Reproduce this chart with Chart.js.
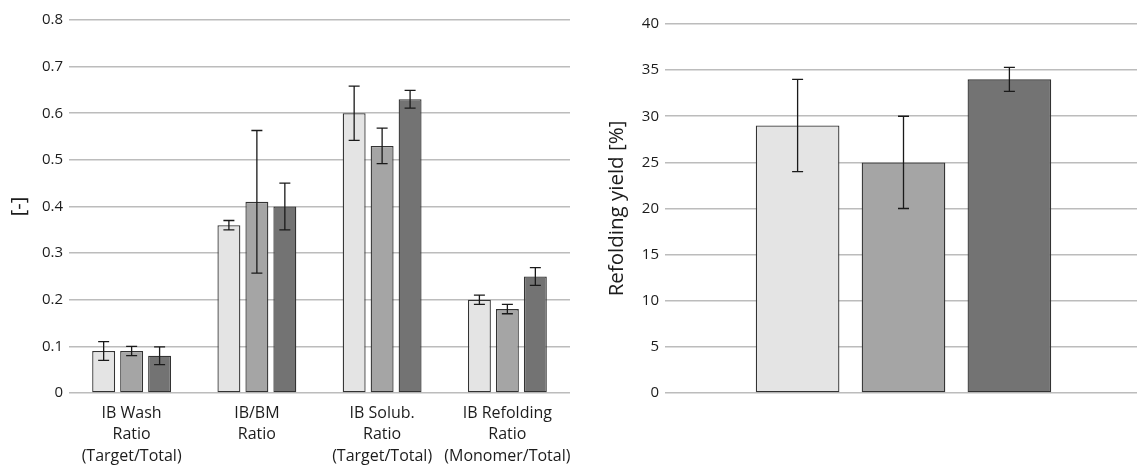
<!DOCTYPE html>
<html>
<head>
<meta charset="utf-8">
<script src="https://cdn.jsdelivr.net/npm/chart.js@4/dist/chart.umd.min.js"></script>
<style>
  html, body { margin: 0; padding: 0; background: #fff; overflow: hidden; width: 1137px; height: 467px; }
  #wrapL { position: absolute; left: 0; top: 0; width: 580px; height: 467px; }
  #wrapR { position: absolute; left: 580px; top: 0; width: 562px; height: 467px; }
</style>
</head>
<body>
<div id="wrapL"><canvas id="left" width="580" height="467"></canvas></div>
<div id="wrapR"><canvas id="right" width="562" height="467"></canvas></div>
<script>
// ---- data ----
const ratioCategories = [
  ['IB Wash', 'Ratio', '(Target/Total)'],
  ['IB/BM', 'Ratio'],
  ['IB Solub.', 'Ratio', '(Target/Total)'],
  ['IB Refolding', 'Ratio', '(Monomer/Total)']
];
const seriesNames = ['Condition 1', 'Condition 2', 'Condition 3'];
const ratioSeries1 = [0.09, 0.36, 0.60, 0.20];
const ratioSeries2 = [0.09, 0.41, 0.53, 0.18];
const ratioSeries3 = [0.08, 0.40, 0.63, 0.25];
const ratioError1 = [0.02, 0.01, 0.058, 0.01];
const ratioError2 = [0.01, 0.153, 0.038, 0.01];
const ratioError3 = [0.019, 0.05, 0.019, 0.019];

const yieldCategories = [''];
const yieldSeries1 = [29];
const yieldSeries2 = [25];
const yieldSeries3 = [34];
const yieldError1 = [5];
const yieldError2 = [5];
const yieldError3 = [1.3];

const ratioTicks = { min: 0, max: 0.8, step: 0.1 };
const yieldTicks = { min: 0, max: 40, step: 5 };

// ---- styles ----
const fills = ['#e4e4e4', '#a5a5a5', '#737373'];
const FONT = "'Open Sans', 'Noto Sans', sans-serif";
const textColor = '#1c1c1c';
const gridColor = '#bcbcbc';

const errorBarPlugin = {
  id: 'errorBars',
  afterDatasetsDraw(chart) {
    const ctx = chart.ctx;
    const y = chart.scales.y;
    ctx.save();
    ctx.strokeStyle = '#1a1a1a';
    ctx.lineWidth = 1.3;
    chart.data.datasets.forEach((ds, i) => {
      const meta = chart.getDatasetMeta(i);
      meta.data.forEach((bar, j) => {
        const v = ds.data[j], e = ds.errors[j];
        const yt = y.getPixelForValue(v + e);
        const yb = y.getPixelForValue(v - e);
        const x = bar.x, hw = 5.5;
        ctx.beginPath();
        ctx.moveTo(x, yt); ctx.lineTo(x, yb);
        ctx.moveTo(x - hw, yt); ctx.lineTo(x + hw, yt);
        ctx.moveTo(x - hw, yb); ctx.lineTo(x + hw, yb);
        ctx.stroke();
      });
    });
    ctx.restore();
  }
};

function makeDatasets(values, errors, barPct, catPct) {
  return values.map((vals, i) => ({
    label: seriesNames[i],
    data: vals,
    errors: errors[i],
    backgroundColor: fills[i],
    borderColor: '#333333',
    borderWidth: 1.3,
    borderSkipped: false,
    barPercentage: barPct,
    categoryPercentage: catPct
  }));
}

function yScale(range, title, titleSize, titleOffset, axisWidth) {
  return {
    min: range.min, max: range.max,
    ticks: { stepSize: range.step, color: textColor, padding: 6, font: { family: FONT, size: 15 } },
    grid: { color: gridColor, lineWidth: 1.6, drawTicks: false },
    border: { display: false },
    title: {
      display: true, text: title, color: textColor,
      font: { family: FONT, size: titleSize, lineHeight: 1.2 },
      padding: { top: titleOffset - titleSize * 0.6, bottom: 0 }
    },
    afterFit: (s) => { s.width = axisWidth; }
  };
}

new Chart(document.getElementById('left'), {
  type: 'bar',
  data: {
    labels: ratioCategories,
    datasets: makeDatasets([ratioSeries1, ratioSeries2, ratioSeries3], [ratioError1, ratioError2, ratioError3], 0.82, 0.67)
  },
  options: {
    responsive: false, animation: false,
    layout: { padding: { top: 20, right: 10, bottom: 0, left: 0 } },
    plugins: { legend: { display: false }, tooltip: { enabled: false } },
    scales: {
      x: {
        grid: { display: false },
        border: { display: false },
        ticks: { color: textColor, padding: 1.5, maxRotation: 0, autoSkip: false, font: { family: FONT, size: 16, lineHeight: 1.35 } },
        afterFit: (s) => { s.height = 74; }
      },
      y: yScale(ratioTicks, '[-]', 20, 19, 69)
    }
  },
  plugins: [errorBarPlugin]
});

new Chart(document.getElementById('right'), {
  type: 'bar',
  data: {
    labels: yieldCategories,
    datasets: makeDatasets([yieldSeries1, yieldSeries2, yieldSeries3], [yieldError1, yieldError2, yieldError3], 0.79, 0.666)
  },
  options: {
    responsive: false, animation: false,
    layout: { padding: { top: 24, right: 0, bottom: 0, left: 0 } },
    plugins: { legend: { display: false }, tooltip: { enabled: false } },
    scales: {
      x: {
        grid: { display: false },
        border: { display: false },
        ticks: { display: false },
        afterFit: (s) => { s.height = 74; }
      },
      y: yScale(yieldTicks, 'Refolding yield [%]', 20.5, 37.5, 85)
    }
  },
  plugins: [errorBarPlugin]
});
</script>
</body>
</html>
